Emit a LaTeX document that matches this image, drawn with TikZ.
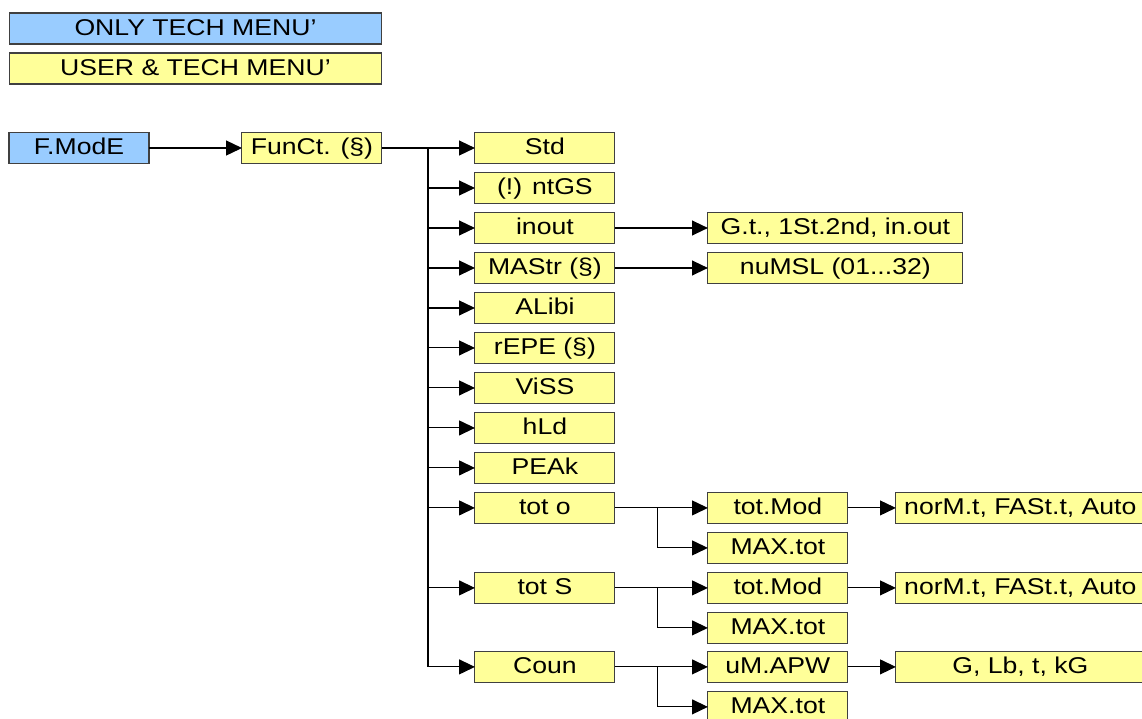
\documentclass[tikz,border=0pt]{standalone}
\usepackage{fontspec}
\setmainfont{Liberation Sans}[FakeStretch=1.165]
\usetikzlibrary{positioning,arrows.meta}
\definecolor{techblue}{HTML}{99CCFF}
\definecolor{useryellow}{HTML}{FFFF99}
\begin{document}
\begin{tikzpicture}[x=0.02cm, y=-0.02cm,
        box/.style = {draw=black!75, line width=0.6pt, minimum width=2.8cm, minimum height=0.62cm, inner sep=0pt,
                      outer sep=0pt, font=\fontsize{13}{15}\selectfont, text height=9.6pt, text depth=2.1pt},
        tech/.style = {box, fill=techblue},
        user/.style = {box, fill=useryellow},
        wide/.style = {user, minimum width=5.1cm},
        arr/.style = {-{Triangle[length=9pt, width=8.5pt]}, line width=0.6pt},
        node distance={0.18cm and 1.86cm}]
        \useasboundingbox (0,0) rectangle (1142,718);
        % legend
        \node[tech, minimum width=7.46cm] (only) at (195.5,28.5) {ONLY TECH MENU'};
        \node[user, minimum width=7.46cm] (usertech) at (195.5,68.5) {USER \& TECH MENU'};
        % menu tree
        \node[tech] (fmode) at (79,148) {F.ModE};
        \node[user] (funct) [right=of fmode] {FunCt. (§)};
        \node[user] (std) [right=of funct] {Std};
        \node[user] (ntgs) [below=of std] {(!) ntGS};
        \node[user] (inout) [below=of ntgs] {inout};
        \node[user] (mastr) [below=of inout] {MAStr (§)};
        \node[user] (alibi) [below=of mastr] {ALibi};
        \node[user] (repe) [below=of alibi] {rEPE (§)};
        \node[user] (viss) [below=of repe] {ViSS};
        \node[user] (hld) [below=of viss] {hLd};
        \node[user] (peak) [below=of hld] {PEAk};
        \node[user] (toto) [below=of peak] {tot o};
        \node[user] (tots) [below=0.98cm of toto] {tot S};
        \node[user] (coun) [below=0.96cm of tots] {Coun};
        \node[wide] (gtin) [right=of inout] {G.t., 1St.2nd, in.out};
        \node[wide] (numsl) [right=of mastr] {nuMSL (01...32)};
        \node[user] (modo) [right=of toto] {tot.Mod};
        \node[user] (maxo) [below=of modo] {MAX.tot};
        \node[user] (mods) [right=of tots] {tot.Mod};
        \node[user] (maxs) [below=of mods] {MAX.tot};
        \node[user] (umapw) [right=of coun] {uM.APW};
        \node[user] (maxc) [below=of umapw] {MAX.tot};
        \node[wide, minimum width=4.98cm] (speedo) [right=0.96cm of modo] {norM.t, FASt.t, Auto};
        \node[wide, minimum width=4.98cm] (speeds) [right=0.96cm of mods] {norM.t, FASt.t, Auto};
        \node[wide, minimum width=4.98cm] (units) [right=0.96cm of umapw] {G, Lb, t, kG};
        % connectors
        \draw[arr] (fmode) -- (funct);
        \draw[line width=0.6pt] (funct.east) -- ++(46,0) coordinate (trunk);
        \draw[line width=0.9pt] (trunk) -- (trunk |- coun);
        \draw[arr] (trunk) -- (std);
        \draw[arr] (trunk |- ntgs) -- (ntgs);
        \draw[arr] (trunk |- inout) -- (inout);
        \draw[arr] (trunk |- mastr) -- (mastr);
        \draw[arr] (trunk |- alibi) -- (alibi);
        \draw[arr] (trunk |- repe) -- (repe);
        \draw[arr] (trunk |- viss) -- (viss);
        \draw[arr] (trunk |- hld) -- (hld);
        \draw[arr] (trunk |- peak) -- (peak);
        \draw[arr] (trunk |- toto) -- (toto);
        \draw[arr] (trunk |- tots) -- (tots);
        \draw[arr] (trunk |- coun) -- (coun);
        \draw[arr] (inout) -- (gtin);
        \draw[arr] (mastr) -- (numsl);
        \draw[arr] (toto) -- (modo);
        \draw[arr] (toto.east) -- ++(43,0) |- (maxo);
        \draw[arr] (tots) -- (mods);
        \draw[arr] (tots.east) -- ++(43,0) |- (maxs);
        \draw[arr] (coun) -- (umapw);
        \draw[arr] (coun.east) -- ++(43,0) |- (maxc);
        \draw[arr] (modo) -- (speedo);
        \draw[arr] (mods) -- (speeds);
        \draw[arr] (umapw) -- (units);
    \end{tikzpicture}
\end{document}
